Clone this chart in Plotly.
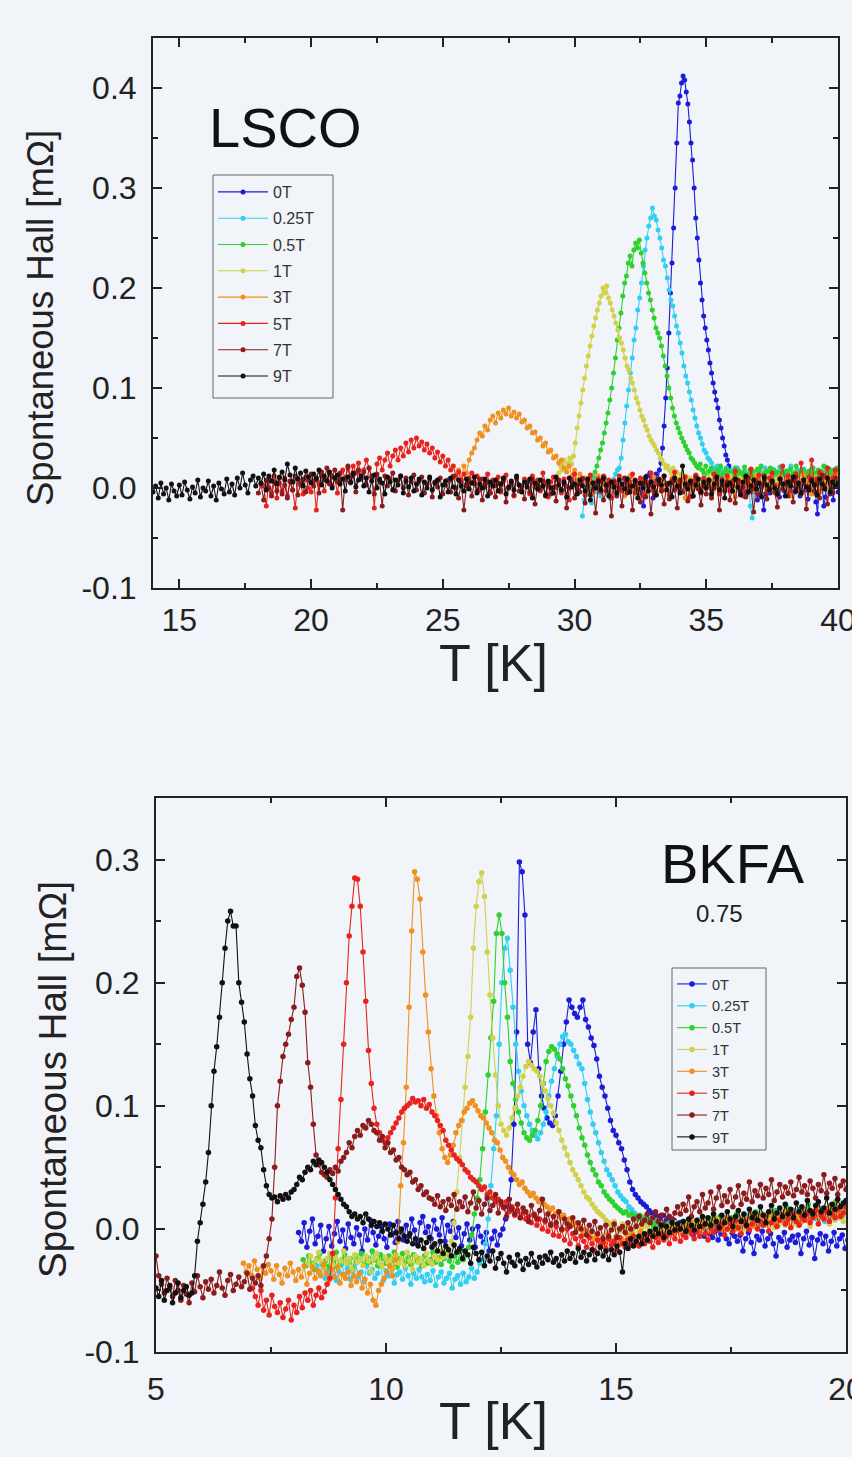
import numpy as np
import plotly.graph_objects as go

labels = ["0T", "0.25T", "0.5T", "1T", "3T", "5T", "7T", "9T"]
colors = ["#1c1cd6", "#33cff0", "#2ed12e", "#d2d24a", "#f0901e", "#e8231e", "#8c1c1c", "#111111"]

# ---------------- LSCO (top) : T start [K], T step [K], signal [1e-3 mOhm]
lsco_T0 = [32.5, 30.3, 30.5, 29.4, 25.5, 18.2, 18.0, 14.0]
lsco_dT = [0.06, 0.07, 0.07, 0.07, 0.1, 0.1, 0.1, 0.1]

lsco_0T = [
    -5, 8, -18, 3, 12, -2, 15, 6, -10, 9,
    14, 4, 18, 25, 40, 62, 90, 120, 155, 195,
    225, 260, 300, 345, 385, 392, 405, 412, 408, 396,
    384, 366, 345, 328, 300, 270, 250, 228, 205, 188,
    172, 160, 148, 138, 125, 115, 105, 96, 88, 80,
    68, 60, 50, 42, 33, 28, 22, 15, 10, 12,
    18, 5, 10, -3, 8, 14, 2, -6, 9, 4,
    12, -4, 7, 0, -12, 5, 11, -8, -22, -6,
    3, 10, -5, 6, 1, 13, -2, 8, -9, 4,
    7, -3, 12, 2, -7, 9, 0, 5, -4, 11,
    1, -8, 6, 10, -2, 4, -11, 7, 3, -5,
    8, -14, -26, -3, 6, 2, -18, -9, 4, 10,
    -6, 5, -12, 3, 8, -4, 6, 0, 2, 5]
lsco_025T = [
    -28, -12, 5, -6, 8, -15, 2, 10, -4, 6,
    -8, 4, 11, -3, 7, -10, 3, 9, 14, 18,
    20, 30, 48, 65, 82, 98, 115, 130, 148, 160,
    178, 190, 205, 222, 238, 250, 262, 270, 280, 272,
    268, 258, 250, 240, 228, 222, 210, 198, 188, 182,
    172, 162, 155, 145, 135, 122, 112, 105, 96, 88,
    78, 70, 62, 55, 50, 44, 38, 35, 30, 28,
    25, 20, 18, 22, 15, 19, 12, 16, 20, 10,
    14, 18, 8, 12, 20, 6, 15, 11, 17, 9,
    13, -18, -30, 5, 16, 10, 18, 7, 14, 20,
    11, 16, 8, 19, 12, 6, 15, 21, 9, 14,
    17, 10, 13, 22, 8, 15, 12, 18, 6, 14,
    19, 11, 16, 9, 13, 20, 7, 15, 12, 17,
    10, 14, 21, 8, 16, 12, 18, 11, 15, 13]
lsco_05T = [
    8, -4, 12, 5, 16, 22, 30, 38, 45, 55,
    65, 75, 88, 100, 115, 130, 148, 160, 175, 192,
    205, 212, 225, 232, 222, 238, 245, 240, 248, 235,
    225, 215, 205, 195, 188, 178, 170, 160, 155, 150,
    142, 132, 122, 112, 100, 90, 80, 72, 65, 60,
    55, 50, 46, 42, 38, 35, 30, 28, 25, 22,
    20, 24, 18, 15, 22, 12, 17, 20, 14, 10,
    18, 13, 22, 9, 15, 19, 11, 16, 8, 14,
    20, 12, 17, 10, 15, 21, 9, 14, 18, 12,
    16, 8, 19, 13, 22, 11, 15, 17, 10, 20,
    14, 18, 9, 16, 12, 21, 15, 8, 17, 13,
    19, 11, 15, 22, 10, 16, 13, 18, 9, 14,
    17, 12, 20, 15, 9, 18, 13, 16, 22, 11,
    15, 19, 12, 17, 14, 20, 16, 18, 13, 15]
lsco_1T = [
    15, 22, 18, 28, 20, 25, 30, 24, 32, 45,
    60, 72, 85, 98, 110, 122, 132, 142, 152, 162,
    170, 178, 185, 192, 200, 195, 202, 190, 185, 178,
    172, 165, 158, 150, 145, 138, 130, 122, 118, 110,
    105, 98, 90, 85, 78, 72, 68, 62, 58, 52,
    48, 45, 42, 38, 35, 30, 28, 24, 20, 22,
    18, 15, 20, 12, 16, 8, 14, 10, 5, 12,
    6, 10, -2, 8, 4, 12, 0, 7, 3, 9,
    5, 11, 2, 8, -3, 6, 10, 1, 7, 4,
    9, 0, 6, 12, 3, -4, 8, 5, 10, 2,
    7, 11, 1, 5, 9, -2, 6, 13, 3, 8,
    4, 10, 0, 7, 12, 2, 6, -3, 9, 5,
    11, 3, 8, 1, 6, 10, -1, 7, 4, 9,
    2, 8, 12, 5, 0, 7, 10, 3, 6, 11,
    4, 9, 1, 7, 13, 5, 8, 2, 10, 6,
    8, 3, 11, 6]
lsco_3T = [
    10, 18, 8, 22, 15, 28, 35, 40, 48, 55,
    52, 62, 58, 68, 72, 65, 75, 70, 78, 74,
    80, 72, 76, 70, 74, 66, 68, 60, 62, 55,
    56, 48, 50, 42, 45, 36, 38, 30, 32, 25,
    28, 20, 16, 22, 12, 18, 8, 14, 5, 10,
    2, 9, -4, 6, 12, -2, 4, 8, -6, 3,
    7, -3, 10, 1, -8, 5, 12, -1, 4, -5,
    9, 2, -6, 6, 0, 11, -4, 3, 8, -2,
    5, -7, 10, 1, 6, -3, 8, -10, 4, 7,
    -1, 12, 3, -5, 9, 0, 6, -8, 11, 2,
    -4, 7, 1, 10, -2, 5, -9, 8, 3, -6,
    10, 0, 6, -3, 12, 4, -7, 9, 1, -2,
    8, -5, 3, 11, -1, 6, 2, -8, 9, 4,
    -3, 7, 13, 0, 5, -6, 10, 2, -4, 8,
    3, 11, -2, 6, 14, 1, 9, -5, 7, 12]
lsco_5T = [
    2, -18, 8, -5, 12, -10, 5, -3, 10, -8,
    6, -2, -20, 9, 3, -6, 11, 0, -4, 7,
    -22, 5, 12, -3, 8, 15, 2, 10, -5, 14,
    18, 8, 20, 12, 22, 15, 25, 10, 18, 28,
    20, 12, -20, 24, 30, 18, 28, 35, 22, 32,
    38, 28, 40, 32, 45, 36, 48, 40, 50, 42,
    46, 38, 44, 35, 40, 30, 36, 26, 32, 22,
    28, 18, 22, 12, 16, 8, 14, 4, 10, 15,
    6, 12, -2, 9, 4, 14, -5, 8, 2, 11,
    -4, 7, 13, 0, 6, -8, 10, 3, -2, 9,
    5, -6, 12, 1, 8, -3, 15, 4, -9, 6,
    11, 0, 7, -5, 9, 2, -12, 8, 14, -1,
    4, 10, -7, 6, 13, -2, 5, 9, -4, 12,
    1, 8, -10, 7, 3, 12, -3, 9, 0, 6,
    14, -5, 4, 10, -8, 7, 2, 15, -3, 5,
    9, -1, 12, 3, -7, 8, 16, 0, 6, -4,
    11, 4, -9, 7, 13, 1, -5, 10, 3, 8,
    -2, 14, 5, -6, 9, 2, 12, -3, 7, 17,
    0, 6, -8, 11, 4, 19, -1, 8, 13, 2,
    7, -4, 10, 15, 3, -7, 9, 22, 5, 12,
    -3, 8, 14, 1, 25, 6, -2, 11, 28, 4,
    9, 16, 0, 12, 20, 5, 10, 18, 3, 14]
lsco_7T = [
    -5, 4, -12, 8, 0, -8, 6, -3, 10, -6,
    3, -10, 7, -2, 12, -7, 5, 9, -4, 8,
    14, 2, 10, -5, 16, 8, 20, 4, 12, 18,
    6, 15, -22, 10, 22, 5, 13, -4, 18, 9,
    16, 3, 20, 11, -6, 14, 7, -18, 12, 2,
    9, 15, -3, 8, 12, 0, 10, -7, 6, 13,
    -2, 7, 11, -5, 4, 9, -9, 6, 1, 10,
    -6, 3, 8, -4, 12, 0, -10, 5, -22, 2,
    7, -8, 4, -3, 9, -12, 1, 6, -5, 3,
    -9, 5, -2, 8, -14, 0, 4, -7, 10, -3,
    2, -11, 6, -4, 9, -16, 3, -1, 7, -8,
    4, -6, 1, -13, 8, -2, 5, -20, 0, 6,
    -10, 3, -4, 9, -15, 2, -7, 5, -25, 1,
    7, -12, -3, 4, -28, 6, -8, 0, -18, 10,
    -5, 2, -22, 8, -1, -14, 5, -9, 3, -26,
    1, -7, 9, -3, -16, 4, -11, 6, -2, -20,
    8, -4, 2, -13, 5, -8, 11, -1, -17, 3,
    -6, 7, -10, 0, 9, -22, 4, -3, 6, -12,
    2, -15, 8, -5, 1, -9, 10, -2, -24, 5,
    -7, 3, 12, -11, 0, 6, -4, -19, 9, -1,
    4, -8, 7, -14, 11, 2, -6, 8, -21, 1,
    9, -3, 5, -10, 13, 0, -16, 6, -5, 10,
    3, -8]
lsco_9T = [
    -4, 2, -10, 5, -6, 0, -12, 4, -3, -8,
    3, -7, 6, -2, -11, 1, -5, 8, -9, 0,
    -3, 7, -8, 2, -12, 5, -1, -6, 9, -4,
    4, -7, 10, 0, 15, 3, -5, 8, 12, 2,
    10, 5, 14, -2, 12, 7, 18, 4, 11, 16,
    8, 24, 13, 6, 20, 9, 15, 2, 17, 11,
    5, 14, 9, 18, 3, 12, 7, 16, 0, 10,
    13, 4, 9, -3, 11, 6, 15, 1, 8, 12,
    2, 10, -4, 7, 13, 0, 9, 5, -6, 11,
    6, -2, 8, 3, 12, -5, 7, 1, 10, -3,
    4, 9, -7, 6, 0, 11, -2, 5, 8, -9,
    3, 7, -4, 10, 1, -6, 8, 2, -3, 9,
    -1, 5, 11, -5, 4, 0, 9, -8, 6, 2,
    8, -3, 4, 10, -6, 1, 7, -2, 12, 3,
    -4, 6, 1, 9, -10, 5, -1, 8, 2, -7,
    7, 0, -5, 11, 3, -2, 6, -9, 10, 1,
    4, -6, 8, 2, -3, 9, -12, 5, 0, 7,
    -2, 10, 3, -8, 6, 1, -5, 8, 4, -1,
    9, -4, 2, 7, -10, 5, 0, 11, -3, 6,
    1, -7, 8, 3, 12, -2, 5, -9, 10, 2,
    -5, 22, 4, -1, 7, -8, 3, 9, -4, 6,
    0, 8, -6, 4, 11, -2, 7, -10, 3, 5,
    -3, 9, 1, -7, 6, 12, -4, 2, 8, -1,
    5, -9, 10, 3, -2, 7, 0, -6, 9, 4,
    -8, 6, 2, 11, -3, 5, -5, 8, 1, -2,
    7, 3, -7, 9, 4, -1, 10, -4, 6, 2,
    5]

# ---------------- BKFA (bottom)
bkfa_T0 = [8.1, 8.5, 8.2, 8.3, 6.9, 7.1, 5.0, 5.0]
bkfa_dT = [0.06] * 8

bkfa_0T = [
    -3, -10, 5, -15, -2, 8, -12, -6, 3, -18,
    -8, 2, -14, -4, 6, -10, -1, -16, 4, -7,
    -12, 1, -5, -18, 0, -9, 7, -3, -13, -6,
    2, -8, -15, 4, -4, -11, 6, -2, -9, 3,
    -6, 8, -1, -12, 5, 10, -3, 2, -8, 7,
    0, -5, 9, -10, 3, -2, 6, -7, 1, -14,
    -4, 4, -9, 0, -15, 2, -6, -11, -3, -18,
    -8, -2, -13, -5, 0, 8, 18, 40, 85, 160,
    298, 290, 255, 150, 135, 160, 178, 130, 108, 98,
    90, 86, 84, 92, 108, 128, 150, 168, 186, 180,
    175, 172, 180, 186, 170, 164, 155, 149, 138, 124,
    115, 108, 98, 88, 80, 76, 70, 65, 56, 48,
    38, 32, 28, 25, 22, 20, 18, 15, 13, 12,
    10, 8, 11, 6, 9, 4, 7, 2, 5, 0,
    3, -2, 1, -5, 2, -3, 0, -6, -1, -4,
    -7, -2, -9, -4, 1, -8, -12, -3, -6, -10,
    -5, -18, -8, -3, -11, -20, -6, -9, -2, -14,
    -8, -4, -12, -22, -7, -10, -3, -15, -9, -6,
    -11, -5, -20, -8, -2, -13, -7, -24, -9, -4,
    -12, -6, -18, -10, -3, -14, -8, -5, -16, -9]
bkfa_025T = [
    -30, -36, -28, -40, -33, -38, -31, -42, -35, -29,
    -37, -32, -41, -34, -28, -39, -35, -43, -30, -36,
    -33, -40, -36, -29, -42, -34, -38, -31, -44, -37,
    -35, -41, -32, -38, -45, -36, -40, -33, -39, -43,
    -37, -42, -34, -46, -39, -35, -44, -40, -36, -48,
    -41, -38, -45, -36, -43, -39, -32, -40, -35, -28,
    -25, -12, 8, 35, 65, 92, 150, 200, 228, 236,
    210, 180, 150, 128, 112, 100, 92, 85, 80, 76,
    73, 78, 85, 95, 108, 120, 130, 140, 150, 156,
    158, 152, 150, 145, 140, 134, 130, 118, 105, 95,
    85, 78, 70, 62, 55, 48, 44, 40, 35, 30,
    27, 24, 22, 18, 16, 13, 11, 10, 8, 10,
    6, 9, 4, 7, 2, 5, 0, 3, -2, 1,
    4, -1, 2, 6, -3, 3, 0, 5, 1, -2,
    3, 7, 0, 5, 9, 2, 6, -1, 4, 8,
    2, 6, 10, 4, 8, 1, 11, 5, 3, 9,
    7, 12, 4, 9, 14, 6, 10, 3, 8, 13,
    5, 11, 8, 15, 9, 4, 12, 7, 16, 10,
    13, 8, 17, 11, 6, 14, 10, 18, 12, 9,
    15, 11, 16]
bkfa_05T = [
    -25, -30, -22, -28, -33, -24, -20, -29, -26, -31,
    -23, -27, -19, -30, -25, -21, -28, -24, -32, -22,
    -26, -20, -29, -23, -27, -18, -25, -30, -21, -24,
    -28, -22, -26, -19, -31, -24, -20, -27, -23, -29,
    -21, -26, -24, -30, -22, -28, -25, -19, -27, -23,
    -29, -24, -20, -26, -31, -22, -27, -18, -25, -21,
    -15, -5, 12, 25, 40, 65, 95, 125, 155, 185,
    240, 255, 240, 200, 172, 136, 118, 105, 95, 86,
    78, 74, 72, 76, 80, 88, 100, 118, 136, 144,
    148, 146, 142, 138, 130, 122, 116, 108, 100, 92,
    82, 74, 68, 60, 54, 48, 44, 38, 35, 30,
    27, 24, 22, 19, 17, 15, 13, 14, 11, 12,
    10, 8, 11, 6, 9, 4, 7, 2, 5, 0,
    3, -2, 4, 1, -3, 5, 0, -1, 6, 2,
    -2, 4, 1, 7, -1, 3, 6, 0, 8, 2,
    5, 10, 3, 7, 1, 9, 4, 12, 6, 2,
    8, 4, 11, 6, 14, 3, 9, 7, 12, 5,
    10, 15, 6, 12, 8, 18, 9, 13, 7, 11,
    16, 10, 14, 20, 8, 13, 17, 11, 15, 9,
    14, 19, 12, 22, 16, 10, 18, 15, 21, 13]
bkfa_1T = [
    -28, -22, -30, -25, -19, -27, -32, -24, -20, -29,
    -23, -31, -26, -18, -28, -24, -33, -21, -27, -25,
    -30, -22, -26, -35, -24, -20, -28, -31, -23, -27,
    -25, -32, -21, -28, -24, -30, -19, -26, -33, -22,
    -27, -24, -30, -20, -26, -29, -22, -25, -18, -23,
    -15, -20, -10, 5, 30, 58, 88, 115, 140, 172,
    228, 262, 282, 289, 270, 225, 190, 155, 125, 100,
    85, 80, 76, 82, 90, 98, 108, 115, 124, 132,
    136, 133, 130, 128, 124, 118, 112, 106, 100, 94,
    86, 80, 72, 66, 60, 54, 48, 44, 40, 35,
    30, 26, 24, 20, 17, 14, 12, 10, 7, 5,
    3, 6, 1, -2, 4, -1, 2, -4, 0, 3,
    -3, 1, -5, 2, -2, -6, 0, -3, 3, -1,
    -4, 2, -2, 5, 0, -3, 4, 1, -1, 6,
    2, -2, 5, 0, 7, 3, -1, 4, 8, 1,
    5, 2, 8, -1, 4, 9, 3, 6, 0, 7,
    4, 10, 2, 7, 5, 12, 3, 8, 6, 1,
    9, 5, 11, 3, 7, 13, 4, 8, 10, 6,
    12, 7, 2, 9, 14, 5, 10, 8, 13, 4,
    11, 7, 15, 9, 6, 12, 10, 14]
bkfa_3T = [
    -28, -35, -30, -38, -26, -33, -40, -31, -36, -29,
    -34, -41, -30, -37, -44, -32, -38, -28, -35, -42,
    -33, -39, -30, -45, -36, -31, -40, -34, -38, -29,
    -36, -42, -33, -39, -31, -44, -37, -40, -35, -46,
    -38, -43, -36, -48, -41, -52, -45, -58, -62, -50,
    -45, -40, -35, -30, -38, -25, -10, 35, 70, 115,
    180, 242, 290, 284, 268, 225, 190, 160, 130, 108,
    92, 78, 65, 58, 54, 60, 68, 78, 84, 88,
    95, 98, 102, 104, 100, 96, 92, 90, 86, 82,
    78, 72, 70, 64, 58, 55, 50, 46, 44, 40,
    36, 38, 33, 30, 27, 29, 25, 22, 24, 20,
    18, 15, 17, 12, 14, 9, 11, 6, 8, 3,
    5, 0, 2, -4, -1, -6, -3, -8, -5, -10,
    -7, -12, -4, -9, -11, -6, -13, -8, -10, -5,
    -9, -4, -11, -7, -2, -8, -5, -10, -3, -6,
    -1, -7, -3, 2, -5, 0, -4, 3, -2, 1,
    4, -1, 6, 0, 3, -3, 7, 2, 5, -2,
    3, 8, 1, 6, -1, 9, 4, 2, 7, 0,
    5, 10, 3, 8, 12, 2, 7, 11, 4, 9,
    6, 13, 8, 3, 11, 7, 14, 5, 10, 15,
    9, 12, 6, 16, 11, 8, 14, 10, 18, 12,
    15, 10, 17, 13, 20, 11, 16, 19, 14, 22]
bkfa_5T = [
    -48, -55, -62, -50, -66, -58, -70, -54, -63, -68,
    -60, -72, -65, -58, -74, -62, -68, -55, -64, -52,
    -58, -50, -62, -54, -48, -56, -51, -45, -40, -20,
    25, 65, 105, 150, 200, 238, 262, 285, 284, 262,
    225, 185, 145, 118, 98, 85, 78, 72, 70, 74,
    78, 82, 86, 90, 95, 98, 100, 102, 106, 103,
    104, 100, 105, 98, 101, 95, 92, 88, 84, 80,
    72, 68, 64, 60, 57, 55, 52, 48, 46, 42,
    40, 38, 35, 32, 34, 28, 30, 25, 22, 24,
    20, 17, 22, 14, 18, 11, 15, 9, 13, 8,
    10, 5, 12, 3, 8, 0, 6, -2, 4, -5,
    2, -6, -1, -9, 0, -12, -4, -8, -14, -6,
    -10, -15, -7, -12, -18, -9, -14, -11, -16, -8,
    -13, -10, -17, -7, -12, -15, -9, -13, -6, -11,
    -14, -8, -12, -5, -10, -15, -7, -11, -4, -9,
    -6, -12, -3, -8, -1, -10, -5, -7, 0, -4,
    -8, -2, -6, 2, -4, -9, 1, -3, 4, -1,
    3, -5, 0, 5, -2, 7, 1, -4, 6, 2,
    -1, 4, 8, 0, 6, 3, 10, -2, 5, 9,
    2, 7, 11, 4, 8, 1, 12, 6, 3, 10,
    7, 13, 5, 9, 15, 4, 11, 8, 14, 6,
    12, 9, 16, 10, 13, 18, 8]
bkfa_7T = [
    -22, -38, -45, -52, -40, -48, -55, -42, -50, -58,
    -46, -53, -60, -44, -51, -38, -47, -56, -43, -49,
    -41, -52, -46, -35, -48, -54, -42, -37, -50, -45,
    -39, -47, -43, -36, -49, -40, -44, -38, -46, -30,
    -22, -8, 8, 50, 100, 120, 140, 150, 158, 170,
    180, 205, 212, 198, 176, 135, 115, 85, 60, 52,
    46, 44, 42, 48, 45, 50, 47, 55, 58, 62,
    70, 66, 75, 80, 76, 84, 82, 88, 85, 80,
    78, 72, 75, 66, 70, 62, 64, 56, 58, 50,
    48, 44, 46, 38, 40, 32, 35, 28, 30, 25,
    24, 20, 27, 18, 22, 15, 24, 19, 28, 16,
    22, 18, 26, 14, 21, 30, 17, 23, 12, 20,
    25, 15, 19, 28, 13, 22, 18, 10, 24, 16,
    12, 20, 9, 17, 14, 6, 19, 11, 8, 15,
    24, 7, 12, 3, 10, 5, 14, 0, 8, 4,
    2, 9, -3, 5, 0, 7, -5, 3, -2, 6,
    -4, 1, -8, 3, -6, -1, 4, -7, 0, 2,
    -3, 5, 0, 8, 2, 10, 4, 7, 12, 5,
    9, 14, 6, 11, 3, 16, 10, 8, 13, 18,
    12, 20, 15, 26, 10, 18, 22, 14, 28, 17,
    21, 30, 16, 25, 34, 19, 27, 22, 32, 18,
    26, 35, 20, 29, 24, 38, 22, 31, 27, 36,
    25, 33, 28, 40, 23, 30, 36, 26, 34, 29,
    38, 27, 32, 42, 30, 35, 28, 39, 33, 25,
    36, 31, 44, 29, 37, 33, 41, 28, 35, 39,
    32, 38]
bkfa_9T = [
    -48, -55, -42, -58, -50, -46, -60, -52, -44, -56,
    -50, -47, -54, -52, -38, -10, 5, 20, 38, 62,
    100, 128, 148, 172, 200, 228, 250, 258, 246, 246,
    200, 184, 168, 142, 122, 108, 84, 72, 66, 48,
    35, 28, 25, 26, 22, 27, 24, 28, 25, 30,
    32, 36, 42, 40, 46, 50, 48, 55, 52, 56,
    54, 50, 46, 40, 36, 32, 28, 24, 20, 18,
    14, 10, 12, 8, 10, 5, 12, 8, 3, 6,
    2, 5, -2, 4, 0, -5, 3, -3, -8, 0,
    -6, -10, -4, -12, -8, -14, -9, -16, -11, -7,
    -15, -12, -18, -10, -20, -14, -17, -22, -13, -19,
    -16, -24, -18, -21, -28, -15, -20, -25, -19, -30,
    -22, -26, -18, -32, -24, -20, -28, -35, -23, -27,
    -30, -21, -26, -33, -24, -29, -20, -27, -31, -23,
    -28, -22, -25, -19, -27, -24, -30, -21, -26, -18,
    -24, -20, -27, -16, -23, -19, -26, -21, -17, -25,
    -20, -15, -22, -18, -25, -17, -21, -14, -19, -35,
    -12, -16, -8, -14, -10, -6, -12, -4, -9, -2,
    -6, 0, -4, 3, -7, 2, -3, 5, -1, 4,
    0, 6, -2, 8, 3, -1, 7, 2, 10, 4,
    9, 3, 12, 6, 1, 11, 5, 14, 8, 2,
    10, 15, 6, 12, 3, 16, 9, 13, 7, 18,
    11, 5, 14, 19, 8, 13, 17, 10, 20, 12,
    16, 9, 21, 14, 18, 11, 23, 15, 12, 19,
    22, 14, 17, 25, 13, 20, 16, 24, 18, 21,
    23, 17]

lsco_series = [lsco_0T, lsco_025T, lsco_05T, lsco_1T, lsco_3T, lsco_5T, lsco_7T, lsco_9T]
bkfa_series = [bkfa_0T, bkfa_025T, bkfa_05T, bkfa_1T, bkfa_3T, bkfa_5T, bkfa_7T, bkfa_9T]

lsco_yticks = [-0.1, 0.0, 0.1, 0.2, 0.3, 0.4]
lsco_yticktext = ["-0.1", "0.0", "0.1", "0.2", "0.3", "0.4"]
bkfa_yticks = [-0.1, 0.0, 0.1, 0.2, 0.3]
bkfa_yticktext = ["-0.1", "0.0", "0.1", "0.2", "0.3"]

W, H = 852, 1457
BG = "#f1f4f8"
FONT = "Liberation Sans, Arial, sans-serif"

def px_x(v):
    return v / W

def px_y(v):
    return 1 - v / H

fig = go.Figure()

for i, (lab, col) in enumerate(zip(labels, colors)):
    y = np.array(lsco_series[i]) / 1000.0
    t = lsco_T0[i] + lsco_dT[i] * np.arange(len(y))
    fig.add_trace(go.Scatter(
        x=t, y=y, mode="lines+markers", name=lab, xaxis="x", yaxis="y",
        line=dict(color=col, width=1.1), marker=dict(color=col, size=5),
        legend="legend", legendgroup="a" + str(i)))

for i, (lab, col) in enumerate(zip(labels, colors)):
    y = np.array(bkfa_series[i]) / 1000.0
    t = bkfa_T0[i] + bkfa_dT[i] * np.arange(len(y))
    fig.add_trace(go.Scatter(
        x=t, y=y, mode="lines+markers", name=lab, xaxis="x2", yaxis="y2",
        line=dict(color=col, width=1.1), marker=dict(color=col, size=5.5),
        legend="legend2", legendgroup="b" + str(i)))

axis_common = dict(
    showline=True, linecolor="#222", linewidth=2, mirror="ticks",
    ticks="inside", ticklen=9, tickwidth=1.5, tickcolor="#222",
    showgrid=False, zeroline=False, ticklabeloverflow="allow", automargin=False,
    tickfont=dict(family=FONT, size=32, color="#222"),
)
minor_common = dict(ticks="inside", ticklen=5, tickcolor="#222", tickwidth=1.5)

fig.update_layout(
    width=W, height=H, autosize=False,
    margin=dict(l=0, r=0, t=0, b=0, pad=0, autoexpand=False),
    paper_bgcolor=BG, plot_bgcolor=BG,
    xaxis=dict(domain=[px_x(153), px_x(838)], range=[14, 40], dtick=5, tick0=0,
               anchor="y", ticklabelstandoff=3,
               minor=dict(dtick=2.5, tick0=0, **minor_common),
               **axis_common),
    yaxis=dict(domain=[px_y(588), px_y(38)], range=[-0.1, 0.45],
               tickmode="array", tickvals=lsco_yticks, ticktext=lsco_yticktext,
               anchor="x", ticklabelstandoff=8,
               minor=dict(dtick=0.05, tick0=0, **minor_common),
               **axis_common),
    xaxis2=dict(domain=[px_x(156), px_x(846)], range=[5, 20], dtick=5, tick0=0,
                anchor="y2", ticklabelstandoff=8,
                minor=dict(dtick=2.5, tick0=0, **minor_common),
                **axis_common),
    yaxis2=dict(domain=[px_y(1352), px_y(798)], range=[-0.1, 0.35],
                tickmode="array", tickvals=bkfa_yticks, ticktext=bkfa_yticktext,
                anchor="x2", ticklabelstandoff=8,
                minor=dict(dtick=0.05, tick0=0, **minor_common),
                **axis_common),
    legend=dict(x=px_x(213), y=px_y(175), xanchor="left", yanchor="top",
                bgcolor="rgba(0,0,0,0)", borderwidth=0,
                font=dict(family=FONT, size=16, color="#333"),
                tracegroupgap=2.5, itemwidth=50),
    legend2=dict(x=px_x(672), y=px_y(968), xanchor="left", yanchor="top",
                 bgcolor="rgba(0,0,0,0)", borderwidth=0,
                 font=dict(family=FONT, size=14.5, color="#333"),
                 tracegroupgap=0, itemwidth=30),
    showlegend=True,
)

# legend frames
legend_boxes = [(213, 175, 333, 398), (672, 968, 766, 1150)]
for (x0, y0, x1, y1) in legend_boxes:
    fig.add_shape(type="rect", xref="paper", yref="paper",
                  x0=px_x(x0), x1=px_x(x1), y0=px_y(y1), y1=px_y(y0),
                  line=dict(color="#666", width=1), fillcolor="rgba(0,0,0,0)",
                  layer="above")

annots = [
    dict(text="LSCO", x=px_x(207), y=px_y(127), xanchor="left", yanchor="middle",
         font=dict(size=56, color="#111")),
    dict(text="BKFA", x=px_x(733), y=px_y(863), xanchor="center", yanchor="middle",
         font=dict(size=56, color="#111")),
    dict(text="0.75", x=px_x(719), y=px_y(913), xanchor="center", yanchor="middle",
         font=dict(size=24, color="#222")),
    dict(text="T [K]", x=px_x(493), y=px_y(663), xanchor="center", yanchor="middle",
         font=dict(size=52, color="#222")),
    dict(text="T [K]", x=px_x(493), y=px_y(1421), xanchor="center", yanchor="middle",
         font=dict(size=52, color="#222")),
    dict(text="Spontaneous Hall [mΩ]", x=px_x(40), y=px_y(318), textangle=-90,
         xanchor="center", yanchor="middle", font=dict(size=36.5, color="#222")),
    dict(text="Spontaneous Hall [mΩ]", x=px_x(52), y=px_y(1080), textangle=-90,
         xanchor="center", yanchor="middle", font=dict(size=38.5, color="#222")),
]
for a in annots:
    a["font"]["family"] = FONT
    fig.add_annotation(xref="paper", yref="paper", showarrow=False, **a)

post = (
    "var gd=document.getElementById('{plot_id}');"
    "gd.style.position='fixed';gd.style.left='0px';gd.style.top='0px';"
    "var h=document.documentElement, b=document.body;"
    "h.style.margin='0';b.style.margin='0';h.style.padding='0';b.style.padding='0';"
    "h.style.overflow='hidden';b.style.overflow='hidden';"
    "h.style.background='#f1f4f8';b.style.background='#f1f4f8';"
)

fig.write_html("out.html", config={"displayModeBar": False}, post_script=post)
